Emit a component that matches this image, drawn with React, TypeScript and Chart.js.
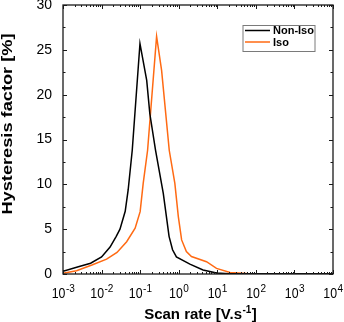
import React, { useEffect, useRef } from 'react';
import { Chart, registerables } from 'chart.js';

Chart.register(...registerables);

// ---- data ----
const seriesLabels = ['Non-Iso', 'Iso'];
const seriesColors = ['#000000', '#ff6a13'];

const nonIsoRate = [0.001, 0.0025, 0.0052, 0.01, 0.0166, 0.024, 0.03, 0.041, 0.049, 0.0624, 0.099, 0.148, 0.178, 0.251, 0.398, 0.562, 0.692, 0.871, 1.95, 4.27, 9.55, 20, 10000];
const nonIsoFactor = [0.3, 0.8, 1.2, 1.9, 3.0, 4.2, 5.0, 7.0, 9.4, 13.8, 25.7, 21.6, 17.9, 13.8, 9.0, 4.2, 2.7, 1.9, 1.1, 0.45, 0.1, 0.03, 0.02];

const isoRate = [0.001, 0.00224, 0.00562, 0.0135, 0.0251, 0.0447, 0.0741, 0.1, 0.12, 0.156, 0.267, 0.36, 0.568, 0.794, 0.977, 1.19, 1.58, 2.14, 5.25, 9.55, 21.4, 57.5, 10000];
const isoFactor = [0.08, 0.37, 1.0, 1.65, 2.4, 3.6, 5.1, 6.95, 10.1, 13.8, 26.5, 22.7, 13.8, 10.1, 6.4, 3.8, 2.5, 1.95, 1.37, 0.63, 0.18, 0.05, 0.03];

const xTickExponents = [-3, -2, -1, 0, 1, 2, 3, 4];
const yMin = 0;
const yMax = 30;
const yStep = 5;
const xTitleMain = 'Scan rate [V.s';
const xTitleSup = '-1';
const xTitleEnd = ']';
const yTitle = 'Hysteresis factor [%]';

const FONT = '"Liberation Sans", Arial, sans-serif';

const decorPlugin = {
  id: 'decor',
  afterDraw(chart: any) {
    const ctx = chart.ctx as CanvasRenderingContext2D;
    const ca = chart.chartArea;
    const xs = chart.scales.x;
    const ys = chart.scales.y;
    ctx.save();
    ctx.strokeStyle = '#1a1a1a';
    ctx.lineWidth = 1.3;
    // frame
    ctx.strokeRect(ca.left, ca.top, ca.right - ca.left, ca.bottom - ca.top);
    // y ticks (major + minor), both sides, inward
    ctx.lineWidth = 1;
    ctx.beginPath();
    for (let v = yMin; v <= yMax + 1e-9; v += yStep / 2) {
      const y = Math.round(ys.getPixelForValue(v)) + 0.5;
      const major = Math.abs(v / yStep - Math.round(v / yStep)) < 1e-6;
      const len = major ? 4 : 2.5;
      ctx.moveTo(ca.left, y);
      ctx.lineTo(ca.left + len, y);
      ctx.moveTo(ca.right, y);
      ctx.lineTo(ca.right - len, y);
    }
    // x ticks
    for (let i = 0; i < xTickExponents.length; i++) {
      const e = xTickExponents[i];
      const base = Math.pow(10, e);
      const xm = Math.round(xs.getPixelForValue(base)) + 0.5;
      ctx.moveTo(xm, ca.bottom);
      ctx.lineTo(xm, ca.bottom - 4);
      ctx.moveTo(xm, ca.top);
      ctx.lineTo(xm, ca.top + 4);
      if (i < xTickExponents.length - 1) {
        for (let k = 2; k <= 9; k++) {
          const x = Math.round(xs.getPixelForValue(k * base)) + 0.5;
          ctx.moveTo(x, ca.bottom);
          ctx.lineTo(x, ca.bottom - 2);
          ctx.moveTo(x, ca.top);
          ctx.lineTo(x, ca.top + 2);
        }
      }
    }
    ctx.stroke();

    // x tick labels with superscripts
    ctx.fillStyle = '#000';
    ctx.textBaseline = 'alphabetic';
    ctx.textAlign = 'left';
    for (const e of xTickExponents) {
      const x = xs.getPixelForValue(Math.pow(10, e));
      ctx.font = `14px ${FONT}`;
      const wBase = ctx.measureText('10').width * 0.88;
      ctx.font = `10px ${FONT}`;
      const sup = e < 0 ? '-' + Math.abs(e) : String(e);
      const wSup = ctx.measureText(sup).width;
      const start = x - (wBase + wSup) / 2;
      ctx.save();
      ctx.translate(start, 297.5);
      ctx.scale(0.88, 1);
      ctx.font = `14px ${FONT}`;
      ctx.fillText('10', 0, 0);
      ctx.restore();
      ctx.font = `10px ${FONT}`;
      ctx.fillText(sup, start + wBase + 0.5, 291.5);
    }

    // x title
    ctx.font = `bold 15px ${FONT}`;
    const w1 = ctx.measureText(xTitleMain).width;
    const w3 = ctx.measureText(xTitleEnd).width;
    ctx.font = `bold 10px ${FONT}`;
    const w2 = ctx.measureText(xTitleSup).width;
    const cx = (ca.left + ca.right) / 2 + 2;
    let sx = cx - (w1 + w2 + w3) / 2;
    ctx.font = `bold 15px ${FONT}`;
    ctx.fillText(xTitleMain, sx, 319);
    sx += w1;
    ctx.font = `bold 10px ${FONT}`;
    ctx.fillText(xTitleSup, sx + 0.5, 313);
    sx += w2 + 1;
    ctx.font = `bold 15px ${FONT}`;
    ctx.fillText(xTitleEnd, sx, 319);

    // y title
    ctx.save();
    ctx.translate(12, 124);
    ctx.rotate(-Math.PI / 2);
    ctx.scale(1.3, 1);
    ctx.font = `bold 14px ${FONT}`;
    ctx.textAlign = 'center';
    ctx.fillText(yTitle, 0, 0);
    ctx.restore();

    // legend
    const lx = 243;
    const ly = 25.5;
    ctx.strokeStyle = '#7a7a7a';
    ctx.lineWidth = 1;
    ctx.strokeRect(lx, ly, 72, 26);
    const rows = [30.5, 42];
    chart.data.datasets.forEach((ds: any, i: number) => {
      ctx.strokeStyle = ds.borderColor;
      ctx.lineWidth = 1.5;
      ctx.beginPath();
      ctx.moveTo(lx + 2, rows[i]);
      ctx.lineTo(lx + 27, rows[i]);
      ctx.stroke();
      ctx.fillStyle = '#000';
      ctx.font = `bold 11px ${FONT}`;
      ctx.textAlign = 'left';
      ctx.textBaseline = 'middle';
      ctx.fillText(ds.label, lx + 30, rows[i] + 0.5);
    });
    ctx.restore();
  },
};

export default function App() {
  const ref = useRef<HTMLCanvasElement | null>(null);
  useEffect(() => {
    if (!ref.current) return;
    const chart = new Chart(ref.current, {
      type: 'line',
      data: {
        datasets: [
          {
            label: seriesLabels[0],
            data: nonIsoRate.map((x, i) => ({ x, y: nonIsoFactor[i] })),
            borderColor: seriesColors[0],
            backgroundColor: seriesColors[0],
            borderWidth: 1.5,
            pointRadius: 0,
            tension: 0,
          },
          {
            label: seriesLabels[1],
            data: isoRate.map((x, i) => ({ x, y: isoFactor[i] })),
            borderColor: seriesColors[1],
            backgroundColor: seriesColors[1],
            borderWidth: 1.5,
            pointRadius: 0,
            tension: 0,
          },
        ],
      },
      options: {
        responsive: false,
        animation: false,
        layout: { padding: { top: 5, right: 11, left: 0, bottom: 0 } },
        plugins: { legend: { display: false }, tooltip: { enabled: false } },
        scales: {
          x: {
            type: 'logarithmic',
            min: 0.001,
            max: 10000,
            ticks: { display: false },
            grid: { display: false, drawTicks: false },
            border: { display: false },
            afterFit: (s: any) => {
              s.height = 48;
              s.paddingLeft = 0;
              s.paddingRight = 0;
            },
          },
          y: {
            min: yMin,
            max: yMax,
            ticks: {
              stepSize: yStep,
              color: '#000',
              padding: 11,
              font: { size: 14, family: FONT },
            },
            grid: { display: false, drawTicks: false },
            border: { display: false },
            afterFit: (s: any) => {
              s.width = 63;
              s.paddingTop = 0;
              s.paddingBottom = 0;
            },
          },
        },
      },
      plugins: [decorPlugin],
    } as any);
    return () => chart.destroy();
  }, []);
  return (
    <div style={{ position: 'absolute', left: 0, top: 0, width: 344, height: 322 }}>
      <canvas ref={ref} width={344} height={322} />
    </div>
  );
}
